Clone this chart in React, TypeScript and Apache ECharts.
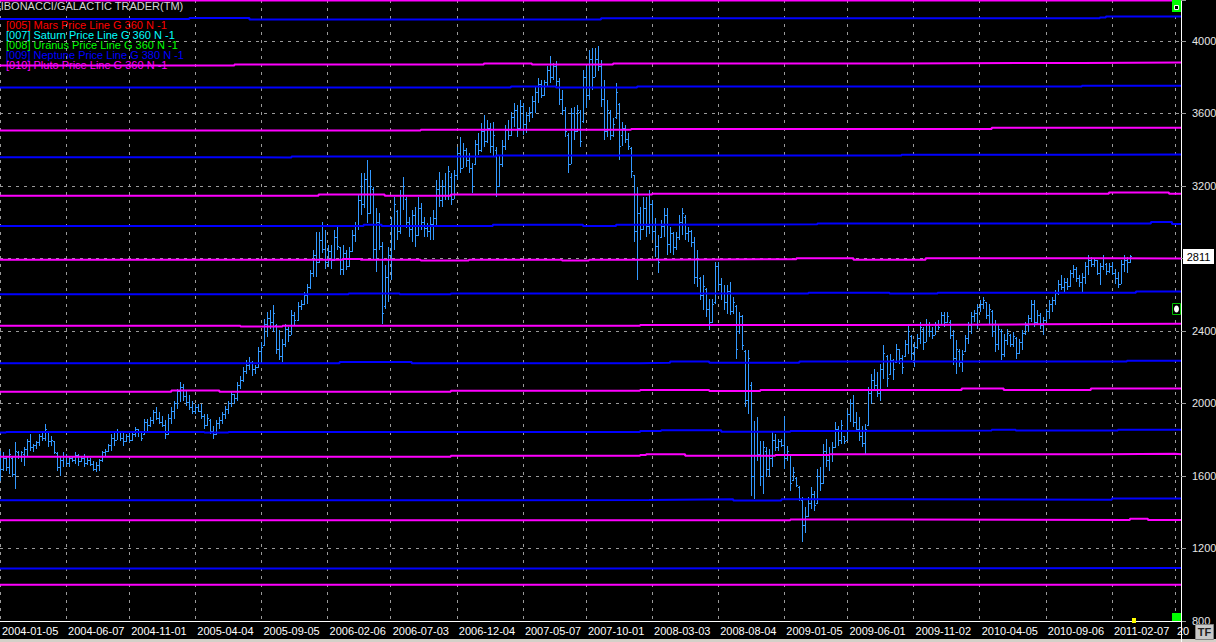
import React, { useEffect, useRef } from "react";
import * as echarts from "echarts";

const FONT = '"Liberation Sans", Arial, sans-serif';
const BAR_COLOR = "#3399ff";
const NEPTUNE_COLOR = "#0000ff";
const PLUTO_COLOR = "#ff00ff";

// weekly categories (Mondays)
const WEEK_COUNT = 394;
const FIRST_WEEK = Date.UTC(2004, 0, 5);
const weekDates: string[] = Array.from({ length: WEEK_COUNT }, (_, k) =>
  new Date(FIRST_WEEK + k * 7 * 86400000).toISOString().slice(0, 10)
);

const tickDates = [
  "2004-01-05", "2004-06-07", "2004-11-01", "2005-04-04", "2005-09-05", "2006-02-06",
  "2006-07-03", "2006-12-04", "2007-05-07", "2007-10-01", "2008-03-03", "2008-08-04",
  "2009-01-05", "2009-06-01", "2009-11-02", "2010-04-05", "2010-09-06", "2011-02-07",
  "2011-07-04",
];
const clippedTick = "2011-07-04";
const clippedTickText = "20";

const Y_MIN = 800;
const Y_MAX = 4225;
const Y_STEP = 400;

const titleText = "FIBONACCI/GALACTIC TRADER(TM)";
const legendLabels = [
  "[005] Mars Price Line G 360 N -1",
  "[007] Saturn Price Line G 360 N -1",
  "[008] Uranus Price Line G 360 N -1",
  "[009] Neptune Price Line G 380 N -1",
  "[010] Pluto Price Line G 360 N -1",
];
const legendColors = ["#ff0000", "#00ffff", "#00ff00", "#0000ff", "#ff00ff"];

// weekly bars: [open, high, low, close]
const weeks2004 = [
  [1720,1740,1574,1640],[1640,1730,1629,1700],[1700,1703,1629,1650],[1650,1749,1611,1720],[1700,1712,1592,1610],[1610,1786,1528,1740],
  [1730,1740,1694,1710],[1710,1740,1675,1730],[1720,1758,1657,1750],[1750,1804,1712,1790],[1790,1832,1740,1760],[1760,1777,1730,1770],
  [1770,1795,1749,1785],[1785,1832,1767,1820],[1820,1841,1795,1810],[1810,1887,1795,1860],[1840,1841,1758,1790],[1790,1823,1767,1800],
  [1790,1795,1721,1730],[1725,1730,1629,1650],[1650,1703,1602,1690],[1690,1730,1648,1710],[1710,1721,1657,1670],[1670,1712,1648,1700],
  [1700,1712,1675,1690],[1690,1730,1666,1715],[1715,1721,1657,1680],[1680,1712,1675,1700],[1700,1721,1648,1670],[1670,1707,1662,1690],
  [1690,1699,1657,1665],[1665,1684,1629,1640],[1640,1675,1620,1660],[1660,1694,1629,1690],[1690,1740,1675,1730],[1730,1749,1712,1740],
  [1740,1777,1730,1770],[1770,1832,1740,1810],[1810,1850,1767,1800],[1800,1860,1798,1840],[1840,1841,1795,1810],[1810,1841,1767,1790],
  [1790,1832,1786,1820],[1820,1850,1786,1800],[1800,1841,1795,1830],[1830,1869,1813,1860],[1860,1860,1813,1840],[1840,1841,1795,1810],
  [1830,1915,1826,1900],[1900,1915,1850,1880],[1880,1924,1869,1910],[1910,1961,1887,1950],
];
const weeks2005 = [
  [1950,1979,1906,1920],[1920,1952,1887,1900],[1900,1933,1869,1880],[1880,1906,1804,1830],[1830,1942,1826,1920],[1920,1979,1887,1960],
  [1960,2016,1915,2000],[2000,2081,1970,2070],[2070,2117,2007,2090],[2090,2108,2016,2040],[2040,2071,1988,2010],[2010,2044,1961,1980],
  [1980,2016,1942,1960],[1960,1998,1942,1980],[1980,1998,1952,1960],[1960,1998,1915,1930],[1930,1942,1860,1880],[1880,1942,1878,1920],
  [1910,1915,1832,1850],[1850,1878,1804,1830],[1830,1906,1828,1890],[1890,1924,1860,1910],[1910,1952,1887,1940],[1940,1988,1915,1970],
  [1970,2016,1942,2000],[2000,2071,1979,2050],[2050,2053,1998,2030],[2030,2117,2016,2100],[2100,2150,2080,2130],[2130,2200,2120,2180],
  [2180,2240,2160,2210],[2210,2255,2182,2230],[2230,2235,2150,2190],[2190,2210,2160,2200],[2200,2311,2196,2290],[2290,2338,2218,2310],
  [2320,2467,2316,2440],[2440,2504,2366,2470],[2470,2513,2412,2450],[2450,2541,2394,2500],[2430,2440,2274,2300],[2300,2403,2237,2260],
  [2260,2357,2228,2330],[2330,2440,2311,2410],[2410,2421,2338,2380],[2380,2517,2376,2490],[2490,2504,2430,2460],[2460,2559,2456,2540],
  [2540,2569,2513,2550],[2550,2615,2541,2600],[2600,2661,2550,2640],[2640,2735,2633,2720],
];
const weeks2006 = [
  [2720,2845,2698,2820],[2820,2947,2698,2780],[2780,2947,2775,2900],[2900,3002,2827,2850],[2850,2956,2744,2780],[2780,2873,2753,2840],
  [2840,2873,2744,2790],[2790,2956,2785,2920],[2920,2974,2845,2870],[2860,2864,2707,2740],[2740,2873,2707,2830],[2830,2845,2735,2760],
  [2760,2864,2755,2840],[2840,2956,2835,2930],[2930,3002,2891,2980],[2980,3149,2956,3120],[3120,3269,3039,3100],[3100,3269,3076,3240],
  [3240,3343,2993,3050],[3050,3287,3045,3200],[3180,3195,2790,2850],[2850,3076,2725,3000],[3000,3048,2845,2870],[2870,2891,2440,2500],
  [2540,2762,2523,2700],[2700,2864,2559,2820],[2820,3029,2679,2980],[2980,3140,2845,3100],[3060,3066,2900,2950],[2950,3177,2937,3150],
  [3150,3251,3066,3200],[3130,3140,2965,3000],[3000,3029,2919,2960],[2960,3066,2891,3040],[3040,3085,2864,2930],[2930,3140,2925,3080],
  [3080,3103,2956,3000],[3000,3029,2919,2970],[2970,2993,2919,2950],[2950,3029,2900,2990],[2990,3066,2900,3020],[3020,3232,2974,3180],
  [3180,3278,3085,3120],[3120,3232,3085,3200],[3200,3269,3122,3150],[3150,3309,3122,3280],[3250,3269,3094,3130],[3130,3287,3128,3260],
  [3260,3416,3232,3380],[3380,3471,3269,3300],[3300,3435,3296,3400],[3400,3407,3306,3340],
];
const weeks2007 = [
  [3340,3379,3269,3300],[3300,3324,3158,3200],[3320,3453,3315,3430],[3430,3490,3370,3400],[3400,3545,3389,3500],[3500,3591,3416,3450],
  [3450,3564,3435,3520],[3520,3545,3379,3420],[3420,3554,3361,3480],[3400,3416,3140,3200],[3200,3370,3195,3320],[3320,3453,3306,3420],
  [3420,3536,3398,3510],[3510,3564,3453,3480],[3480,3610,3475,3580],[3580,3656,3527,3620],[3620,3647,3471,3520],[3520,3674,3508,3640],
  [3640,3656,3481,3540],[3540,3610,3490,3590],[3590,3637,3554,3610],[3610,3693,3573,3670],[3670,3748,3601,3720],[3720,3794,3656,3760],
  [3760,3785,3683,3700],[3700,3785,3695,3770],[3770,3859,3748,3840],[3840,3914,3767,3800],[3800,3877,3785,3860],[3860,3886,3748,3780],
  [3780,3794,3647,3680],[3680,3730,3591,3620],[3620,3637,3471,3500],[3480,3490,3269,3320],[3320,3628,3318,3600],[3600,3637,3453,3500],
  [3500,3647,3495,3620],[3610,3619,3416,3450],[3560,3840,3545,3800],[3800,3859,3628,3700],[3700,3951,3674,3900],[3900,3960,3730,3800],
  [3800,3960,3798,3900],[3900,3969,3831,3860],[3860,3895,3637,3680],[3680,3785,3453,3500],[3500,3674,3471,3620],[3610,3619,3453,3480],
  [3480,3573,3470,3540],[3580,3766,3570,3720],[3650,3656,3342,3420],[3480,3554,3420,3520],
];
const weeks2008 = [
  [3520,3536,3435,3460],[3460,3490,3398,3420],[3410,3416,3241,3280],[3260,3260,2891,2950],[2950,3195,2679,3050],[3050,3085,2900,2960],
  [2960,3140,2955,3080],[3080,3140,2919,2980],[2980,3177,2937,3100],[3100,3122,2900,2950],[2950,3020,2809,2870],[2870,2928,2717,2780],
  [2920,3011,2910,2980],[2980,3076,2919,3040],[3040,3076,2818,2880],[2880,2975,2827,2940],[2940,2945,2818,2860],[2860,2947,2846,2920],
  [2920,3039,2901,3000],[3000,3076,2928,3050],[3030,3040,2901,2940],[2940,2975,2892,2950],[2950,2956,2864,2890],[2890,2919,2661,2700],
  [2700,2846,2643,2800],[2690,2698,2569,2600],[2600,2707,2514,2650],[2630,2634,2477,2520],[2520,2578,2403,2450],[2450,2578,2445,2550],
  [2560,2781,2551,2760],[2760,2781,2624,2660],[2660,2689,2569,2610],[2610,2652,2514,2560],[2560,2652,2495,2620],[2620,2670,2486,2510],
  [2510,2587,2495,2560],[2540,2541,2247,2300],[2400,2505,2385,2480],[2480,2486,2293,2320],[2290,2293,1979,2020],[2020,2293,1942,2250],
  [2100,2118,1491,1600],[1600,1905,1473,1850],[1850,1924,1684,1720],[1720,1795,1546,1600],[1600,1795,1500,1760],[1740,1758,1592,1640],
  [1640,1749,1602,1700],[1700,1850,1648,1800],[1800,1832,1740,1760],[1760,1804,1740,1790],
];
const weeks2009 = [
  [1790,1804,1758,1770],[1770,1933,1638,1700],[1700,1767,1684,1740],[1720,1721,1519,1560],[1580,1648,1574,1620],[1590,1592,1537,1550],
  [1540,1546,1463,1480],[1470,1482,1233,1330],[1330,1427,1288,1380],[1380,1482,1375,1450],[1450,1537,1417,1500],[1500,1519,1408,1440],
  [1450,1638,1445,1600],[1600,1648,1519,1560],[1560,1777,1556,1740],[1740,1804,1648,1690],[1690,1758,1629,1720],[1720,1786,1675,1760],
  [1760,1896,1755,1860],[1860,1878,1767,1800],[1800,1906,1777,1880],[1820,1823,1777,1790],[1800,1961,1795,1940],[1940,2026,1897,2000],
  [2000,2044,1869,1900],[1900,1952,1841,1860],[1860,1924,1795,1820],[1820,1878,1758,1780],[1780,1887,1721,1860],[1880,2090,1877,2060],
  [2060,2164,1998,2130],[2130,2191,2072,2100],[2100,2173,2035,2060],[2060,2219,2016,2190],[2190,2320,2136,2280],[2260,2265,2090,2140],
  [2160,2274,2155,2240],[2240,2247,2127,2190],[2230,2330,2225,2300],[2300,2302,2219,2250],[2250,2265,2164,2200],[2260,2348,2256,2330],
  [2330,2431,2274,2400],[2370,2376,2238,2280],[2280,2339,2201,2310],[2310,2385,2302,2360],[2360,2450,2330,2420],[2410,2422,2293,2340],
  [2340,2468,2338,2440],[2440,2450,2366,2400],[2400,2422,2357,2380],[2380,2450,2376,2430],
];
const weeks2010 = [
  [2430,2459,2403,2420],[2440,2505,2436,2490],[2490,2505,2422,2450],[2450,2505,2445,2480],[2450,2459,2357,2380],[2380,2403,2210,2250],
  [2250,2348,2164,2300],[2290,2302,2201,2230],[2230,2293,2173,2270],[2290,2376,2284,2360],[2360,2450,2330,2430],[2430,2505,2385,2480],
  [2480,2514,2450,2500],[2500,2551,2413,2530],[2530,2569,2505,2550],[2550,2588,2523,2570],[2560,2562,2468,2490],[2490,2551,2431,2520],
  [2510,2514,2366,2400],[2400,2459,2284,2330],[2330,2431,2293,2410],[2400,2413,2238,2270],[2270,2385,2256,2350],[2350,2413,2320,2390],
  [2380,2385,2311,2330],[2330,2394,2311,2370],[2360,2366,2247,2280],[2280,2357,2274,2340],[2340,2403,2293,2390],[2390,2450,2376,2430],
  [2430,2486,2394,2470],[2470,2569,2450,2550],[2550,2569,2422,2450],[2450,2514,2440,2490],[2490,2496,2413,2430],[2430,2477,2376,2460],
  [2460,2523,2450,2510],[2510,2569,2468,2550],[2550,2588,2505,2570],[2570,2625,2542,2610],[2610,2680,2597,2660],[2660,2708,2625,2640],
  [2640,2689,2615,2670],[2670,2689,2625,2650],[2650,2735,2643,2720],[2720,2763,2689,2740],[2740,2754,2671,2690],[2690,2708,2643,2670],
  [2670,2717,2615,2700],[2700,2781,2661,2760],[2760,2818,2708,2790],[2790,2809,2754,2770],
];
const weeks2011 = [
  [2770,2800,2754,2790],[2790,2792,2708,2720],[2720,2772,2652,2760],[2760,2818,2735,2800],[2770,2772,2708,2730],[2730,2772,2717,2760],
  [2760,2781,2708,2720],[2720,2744,2661,2690],[2690,2726,2634,2660],[2660,2790,2658,2770],[2770,2818,2726,2790],[2790,2809,2717,2780],
  [2780,2818,2775,2811],
];

// Neptune (blue) price lines: [weekIndex, level] breakpoints
const neptune1 = [[0, 4120], [63, 4126], [83, 4117], [200, 4124], [366, 4128], [368, 4134]];
const neptune2 = [[0, 3742], [170, 3748], [185, 3742], [212, 3748], [360, 3752]];
const neptune3 = [[0, 3358], [76, 3356], [97, 3362], [165, 3367], [300, 3371], [360, 3373]];
const neptune4 = [[0, 2979], [121, 2985], [127, 2979], [164, 2986], [194, 2979], [205, 2986], [213, 2988], [272, 2992], [383, 3000], [390, 2990]];
const neptune5 = [[0, 2602], [116, 2606], [133, 2602], [150, 2606], [269, 2611], [296, 2606], [312, 2611], [378, 2617]];
const neptune6 = [[0, 2222], [113, 2229], [137, 2222], [213, 2225], [223, 2231], [236, 2225], [266, 2231], [375, 2236]];
const neptune7 = [[0, 1839], [2, 1843], [68, 1839], [76, 1843], [213, 1848], [220, 1852], [240, 1844], [263, 1848], [276, 1850], [330, 1855], [338, 1850], [372, 1855]];
const neptune8 = [[0, 1466], [150, 1468], [216, 1471], [244, 1464], [260, 1471], [300, 1469], [370, 1475]];
const neptune9 = [[0, 1090], [200, 1092]];

// Pluto (magenta) price lines
const pluto0 = [[0, 4222]];
const pluto1 = [[0, 3864], [78, 3869], [161, 3875], [177, 3869], [204, 3875], [300, 3878], [360, 3880]];
const pluto2 = [[0, 3505], [140, 3509], [210, 3514], [330, 3521]];
const pluto3 = [[0, 3146], [106, 3152], [128, 3146], [150, 3152], [217, 3157], [369, 3163], [389, 3157]];
const pluto4 = [[0, 2792], [114, 2797], [120, 2792], [140, 2788], [156, 2793], [187, 2788], [196, 2793], [213, 2795], [265, 2801], [284, 2793], [308, 2801], [370, 2799]];
const pluto5 = [[0, 2429], [80, 2424], [94, 2429], [213, 2433], [300, 2436], [345, 2439]];
const pluto6 = [[0, 2065], [57, 2071], [73, 2065], [150, 2070], [213, 2074], [236, 2069], [253, 2074], [320, 2082], [334, 2074], [363, 2082]];
const pluto7 = [[0, 1706], [150, 1712], [213, 1716], [215, 1720], [228, 1712], [258, 1716], [276, 1720], [368, 1723], [391, 1720]];
const pluto8 = [[0, 1355], [263, 1360], [300, 1357], [376, 1364], [382, 1357]];
const pluto9 = [[0, 1000]];

const neptuneLines = [neptune1, neptune2, neptune3, neptune4, neptune5, neptune6, neptune7, neptune8, neptune9];
const plutoLines = [pluto0, pluto1, pluto2, pluto3, pluto4, pluto5, pluto6, pluto7, pluto8, pluto9];

const allBars = [...weeks2004, ...weeks2005, ...weeks2006, ...weeks2007, ...weeks2008, ...weeks2009, ...weeks2010, ...weeks2011];
const ohlcData = allBars.map((b, i) => [i, b[0], b[1], b[2], b[3]]);
const lastIndex = allBars.length - 1;
const lastClose = allBars[lastIndex][3];

const withEnd = (bp: number[][]) => [...bp, [WEEK_COUNT - 1, bp[bp.length - 1][1]]];

const isTick = (_idx: number, val: string) => tickDates.indexOf(val) >= 0;

const renderOhlc = (_params: any, api: any) => {
  const idx = api.value(0);
  const pO = api.coord([idx, api.value(1)]);
  const pH = api.coord([idx, api.value(2)]);
  const pL = api.coord([idx, api.value(3)]);
  const pC = api.coord([idx, api.value(4)]);
  const x = Math.round(pH[0]);
  const yH = Math.round(pH[1]);
  const yL = Math.round(pL[1]);
  const yO = Math.round(pO[1]);
  const yC = Math.round(pC[1]);
  const style = { fill: BAR_COLOR };
  return {
    type: "group",
    children: [
      { type: "rect", shape: { x, y: yH, width: 1, height: Math.max(1, yL - yH) }, style },
      { type: "rect", shape: { x: x - 1, y: yO, width: 1, height: 1 }, style },
      { type: "rect", shape: { x: x + 1, y: yC, width: 1, height: 1 }, style },
    ],
  };
};

// last-price tag placed just outside the right edge of the plot, at the close level
const renderLastTag = (_params: any, api: any) => {
  const edge = api.coord([WEEK_COUNT - 1, api.value(1)]);
  const x0 = Math.round(edge[0]) + 2;
  const y = Math.round(edge[1]);
  return {
    type: "group",
    children: [
      { type: "rect", shape: { x: x0, y: y - 7, width: 31, height: 15 }, style: { fill: "#ffffff" } },
      {
        type: "text",
        x: x0 + 15.5,
        y: y + 0.5,
        style: {
          text: String(api.value(1)),
          fill: "#000000",
          font: `11px ${FONT}`,
          align: "center",
          verticalAlign: "middle",
        },
      },
    ],
  };
};

const lineSeries = (bp: number[][], color: string) => ({
  type: "line",
  data: withEnd(bp),
  step: "end",
  symbol: "none",
  showSymbol: false,
  silent: true,
  z: 3,
  lineStyle: { color, width: 2 },
  itemStyle: { color },
  emphasis: { disabled: true },
});

const legendY = [25, 35, 44.5, 54.5, 64.5];

export default function App() {
  const ref = useRef<HTMLDivElement>(null);
  useEffect(() => {
    if (!ref.current) return;
    const chart = echarts.init(ref.current, undefined, { renderer: "svg" });
    const gridLine = { color: "#9a9a9a", type: [3, 5] as any, width: 1 };
    chart.setOption({
      animation: false,
      backgroundColor: "#000000",
      grid: { left: 0, right: 35, top: 0, bottom: 21, containLabel: false, outerBoundsMode: "none" },
      xAxis: {
        type: "category",
        data: weekDates,
        boundaryGap: false,
        axisLine: { show: true, lineStyle: { color: "#ffffff", width: 1 } },
        axisTick: { show: false, interval: isTick },
        axisLabel: {
          interval: isTick,
          align: "left",
          margin: 4,
          padding: [0, 0, 0, 2],
          color: "#ffffff",
          fontSize: 11,
          fontFamily: FONT,
          formatter: (v: string) => (v === clippedTick ? clippedTickText : v),
        },
        splitLine: { show: true, interval: isTick, lineStyle: gridLine },
      },
      yAxis: {
        type: "value",
        position: "right",
        min: Y_MIN,
        max: Y_MAX,
        interval: Y_STEP,
        axisLine: { show: true, lineStyle: { color: "#ffffff", width: 1 } },
        axisTick: { show: true, length: 5, lineStyle: { color: "#9a9a9a" } },
        axisLabel: {
          margin: 11,
          color: "#e6e6e6",
          fontSize: 11,
          fontFamily: FONT,
          formatter: (v: number) =>
            v % Y_STEP !== 0 || Math.abs(v - lastClose) < Y_STEP / 8 ? "" : String(v),
        },
        splitLine: { show: true, lineStyle: gridLine },
      },
      series: [
        {
          type: "custom",
          renderItem: renderOhlc,
          data: ohlcData,
          encode: { x: 0, y: [1, 2, 3, 4] },
          z: 2,
          silent: true,
          clip: true,
        },
        ...neptuneLines.map((bp) => lineSeries(bp, NEPTUNE_COLOR)),
        ...plutoLines.map((bp) => lineSeries(bp, PLUTO_COLOR)),
        {
          type: "custom",
          renderItem: renderLastTag,
          data: [[lastIndex, lastClose]],
          encode: { x: 0, y: 1 },
          clip: false,
          silent: true,
          z: 20,
        },
      ],
      graphic: {
        elements: [
          {
            type: "text",
            x: -6,
            y: 6,
            style: { text: titleText, fill: "#d4d4d4", font: `11px ${FONT}`, verticalAlign: "middle" },
          },
          ...legendLabels.map((t, k) => ({
            type: "text",
            x: 6,
            y: legendY[k],
            style: { text: t, fill: legendColors[k], font: `11px ${FONT}`, verticalAlign: "middle" },
          })),
          { type: "rect", z: 10, shape: { x: 1172, y: 0, width: 9, height: 12 }, style: { fill: "#00ff00" } },
          { type: "rect", z: 11, shape: { x: 1174.5, y: 5.5, width: 4, height: 4 }, style: { fill: "#000000", stroke: "#ffffff", lineWidth: 1 } },
          { type: "rect", z: 10, shape: { x: 1172.5, y: 303.5, width: 8, height: 11 }, style: { fill: "#000000", stroke: "#00c000", lineWidth: 1 } },
          { type: "ellipse", z: 11, shape: { cx: 1176.5, cy: 309, rx: 2.5, ry: 3.5 }, style: { fill: "#ffffff" } },
          { type: "rect", z: 10, shape: { x: 1172, y: 613, width: 9, height: 8 }, style: { fill: "#00ff00" } },
          { type: "rect", z: 10, shape: { x: 1132, y: 618, width: 4, height: 5 }, style: { fill: "#ffff00" } },
          { type: "line", z: 10, shape: { x1: 1181.5, y1: 621, x2: 1181.5, y2: 642 }, style: { stroke: "#ffffff", lineWidth: 1 } },
          { type: "rect", z: 9, shape: { x: 0, y: 639, width: 1216, height: 3 }, style: { fill: "#d4d0c8" } },
          { type: "rect", z: 10, shape: { x: 1195.5, y: 624.5, width: 18, height: 15 }, style: { fill: "#c8c8c8", stroke: "#808080", lineWidth: 1 } },
          {
            type: "text",
            z: 11,
            x: 1204.5,
            y: 632,
            style: { text: "TF", fill: "#202020", font: `bold 11px ${FONT}`, align: "center", verticalAlign: "middle" },
          },
        ],
      },
    });
    return () => chart.dispose();
  }, []);
  return (
    <div
      ref={ref}
      style={{ position: "absolute", left: 0, top: 0, width: 1216, height: 642, background: "#000" }}
    />
  );
}
